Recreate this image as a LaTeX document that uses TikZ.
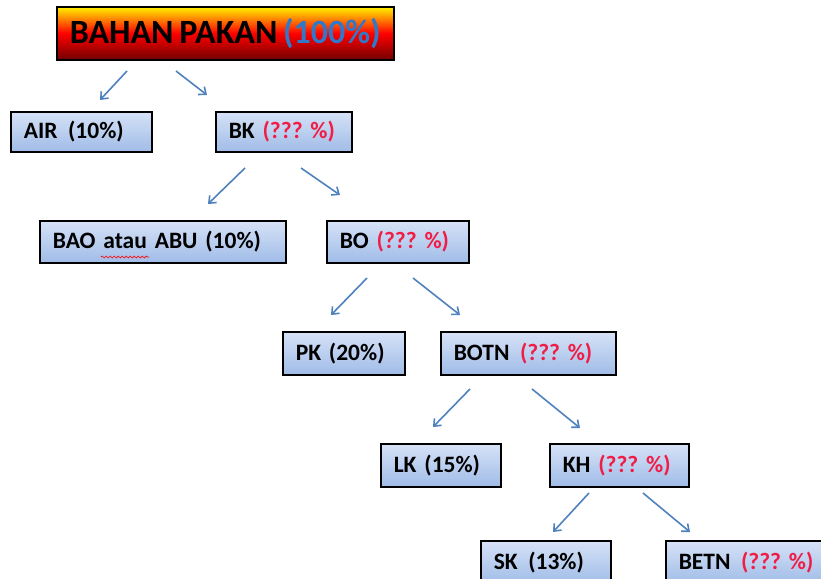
\documentclass[tikz,border=0pt]{standalone}
\usepackage{fontspec}
\setmainfont{Carlito}
\usetikzlibrary{arrows.meta,decorations.pathmorphing,shadows}
\definecolor{arrowblue}{RGB}{79,129,189}
\definecolor{qred}{RGB}{240,30,70}
\definecolor{pblue}{RGB}{50,120,200}
\definecolor{boxtop}{RGB}{214,226,246}
\definecolor{boxbot}{RGB}{160,188,232}
\newcommand{\boxfont}{\bfseries\fontsize{23.5}{25}\selectfont\spaceskip=0.17em plus 0.05em minus 0.05em\relax}
\newcommand{\topfont}{\bfseries\fontsize{34}{36}\selectfont\spaceskip=0.17em plus 0.05em minus 0.05em\relax}
\tikzset{
  box/.style={draw=black, line width=1.6pt, top color=boxtop, bottom color=boxbot,
    anchor=north west, align=left, inner xsep=13pt, inner ysep=0pt,
    font=\boxfont,
    drop shadow={shadow xshift=1.5pt, shadow yshift=-1.5pt, opacity=0.35, fill=black}},
  topbox/.style={draw=black, line width=1.6pt, anchor=north west, inner sep=0pt,
    top color=yellow!90!orange, bottom color=red!45!black, middle color=red,
    font=\topfont,
    drop shadow={shadow xshift=1.5pt, shadow yshift=-1.5pt, opacity=0.35, fill=black}},
  conn/.style={draw=arrowblue, line width=1.6pt, -{Straight Barb[length=6pt,width=10pt]}}
}
\newcommand{\qq}{\textcolor{qred}{(???\ \%)}}
\newcommand{\dsp}{\hspace{0.45em}}
\begin{document}
\begin{tikzpicture}[x=1pt,y=-1pt]
\useasboundingbox (0,0) rectangle (821,578);
\clip (0,0) rectangle (821,578);
\node[topbox, minimum width=337pt, minimum height=53pt] (top) at (56,6) {BAHAN PAKAN \textcolor{pblue}{(100\%)}};
\node[box, text width=115pt, minimum height=40pt] (air) at (10,111) {AIR\dsp(10\%)};
\node[box, text width=110pt, minimum height=40pt] (bk) at (215,111) {BK \qq};
\node[box, text width=220pt, minimum height=42pt] (bao) at (39,220) {BAO atau ABU (10\%)};
\node[box, text width=116pt, minimum height=42pt] (bo) at (326,220) {BO \qq};
\node[box, text width=96pt, minimum height=43pt] (pk) at (282,331) {PK (20\%)};
\node[box, text width=149pt, minimum height=43pt] (botn) at (440,331) {BOTN\dsp\qq};
\node[box, text width=94pt, minimum height=43pt] (lk) at (380,443) {LK (15\%)};
\node[box, text width=113pt, minimum height=43pt] (kh) at (549,443) {KH \qq};
\node[box, text width=104pt, minimum height=43pt] (sk) at (480,540) {SK\dsp(13\%)};
\node[box, text width=144pt, minimum height=43pt] (betn) at (665,540) {BETN\dsp\qq};
% wavy spell-check underline
\coordinate (w1) at (101,257);
\coordinate (w2) at (149,257);
\draw[red, line width=0.7pt, decorate, decoration={snake, amplitude=1pt, segment length=4pt}] (w1) -- (w2);
% arrows
\coordinate (a1) at (127,71);  \coordinate (b1) at (100,100);
\coordinate (a2) at (176,71);  \coordinate (b2) at (207,95);
\coordinate (a3) at (245,168); \coordinate (b3) at (208,204);
\coordinate (a4) at (301,168); \coordinate (b4) at (340,195);
\coordinate (a5) at (367,278); \coordinate (b5) at (331,315);
\coordinate (a6) at (413,278); \coordinate (b6) at (460,315);
\coordinate (a7) at (470,389); \coordinate (b7) at (433,427);
\coordinate (a8) at (532,389); \coordinate (b8) at (580,428);
\coordinate (a9) at (589,493); \coordinate (b9) at (553,532);
\coordinate (a10) at (643,493); \coordinate (b10) at (690,532);
\foreach \i in {1,...,10} { \draw[conn] (a\i) -- (b\i); }
\end{tikzpicture}
\end{document}
